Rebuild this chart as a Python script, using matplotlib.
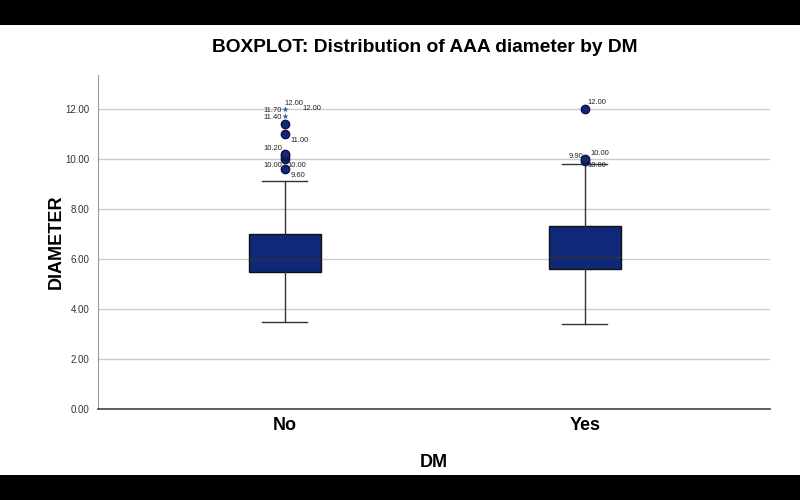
import matplotlib
matplotlib.use("Agg")
import matplotlib.pyplot as plt
from matplotlib.patches import Rectangle

plt.rcParams['font.family'] = ['Liberation Sans', 'DejaVu Sans']

# data
groups = ["No", "Yes"]
whislo = [3.5, 3.4]
q1 = [5.5, 5.6]
med = [6.0, 6.1]
q3 = [7.0, 7.3]
whishi = [9.1, 9.8]
# outliers (circles) and extremes (stars)
out_no = [9.6, 10.0, 10.1, 10.2, 11.0, 11.4]
ext_no = [11.7, 12.0]
out_yes = [9.9, 10.0, 12.0]
ext_yes = []
yticks = [0, 2, 4, 6, 8, 10, 12]

navy = "#0f2878"

fig = plt.figure(figsize=(8, 5), dpi=100, facecolor="black")
# white page between the black bands
fig.patches.append(Rectangle((0, 0.05), 1, 0.9, transform=fig.transFigure,
                             facecolor="white", edgecolor="none", zorder=-1))
ax = fig.add_axes([0.1225, 0.182, 0.84, 0.668])
ax.set_zorder(1)
ax.set_facecolor("white")

stats = []
for i in range(2):
    stats.append(dict(whislo=whislo[i], q1=q1[i], med=med[i], q3=q3[i],
                      whishi=whishi[i], fliers=[]))
ax.bxp(stats, positions=[1, 2], widths=0.24, capwidths=0.15,
       patch_artist=True, showfliers=False,
       boxprops=dict(facecolor=navy, edgecolor="#111111", linewidth=1),
       medianprops=dict(color="#333333", linewidth=1),
       whiskerprops=dict(color="#333333", linewidth=1),
       capprops=dict(color="#333333", linewidth=1), zorder=3)

for x, o, e in [(1, out_no, ext_no), (2, out_yes, ext_yes)]:
    ax.scatter([x] * len(o), o, s=36, color=navy, edgecolor="#111144", zorder=4)
    if e:
        ax.scatter([x] * len(e), e, s=22, marker="*", color="#3a5aa8",
                   linewidths=0, zorder=4)

# point labels
lbl = dict(fontsize=5.5, color="#222222", zorder=5)
ax.text(1.0, 12.15, "12.00", ha="left", **lbl)
ax.text(1.06, 12.0, "12.00", ha="left", va="center", **lbl)
ax.text(0.99, 11.92, "11.70", ha="right", va="center", **lbl)
ax.text(0.99, 11.66, "11.40", ha="right", va="center", **lbl)
ax.text(1.02, 10.75, "11.00", ha="left", va="center", **lbl)
ax.text(0.99, 10.42, "10.20", ha="right", va="center", **lbl)
ax.text(0.99, 9.75, "10.00", ha="right", va="center", **lbl)
ax.text(1.01, 9.75, "10.00", ha="left", va="center", **lbl)
ax.text(1.02, 9.32, "9.60", ha="left", va="center", **lbl)
ax.text(2.01, 12.25, "12.00", ha="left", va="center", **lbl)
ax.text(1.995, 10.1, "9.90", ha="right", va="center", **lbl)
ax.text(2.02, 10.2, "10.00", ha="left", va="center", **lbl)
ax.text(2.01, 9.75, "10.00", ha="left", va="center", **lbl)

ax.set_xlim(0.377, 2.617)
ax.set_ylim(0, 13.36)
ax.set_yticks(yticks)
ax.set_yticklabels(["%.2f" % v for v in yticks], fontsize=7, color="#333333")
ax.set_xticks([1, 2])
ax.set_xticklabels(groups, fontsize=13, fontweight="bold")
ax.tick_params(axis="both", length=0, pad=6)
ax.grid(axis="y", color="#cccccc", linewidth=1, zorder=0)
ax.set_axisbelow(True)
for s in ["top", "right"]:
    ax.spines[s].set_visible(False)
ax.spines["left"].set_color("#999999")
ax.spines["bottom"].set_color("#444444")
ax.spines["bottom"].set_linewidth(1.2)

ax.set_ylabel("DIAMETER", fontsize=13, fontweight="bold")
ax.yaxis.set_label_coords(-0.05, 0.5)
ax.set_xlabel("DM", fontsize=13, fontweight="bold", labelpad=14)
fig.text(0.531, 0.906, "BOXPLOT: Distribution of AAA diameter by DM",
         ha="center", va="center", fontsize=13.8, fontweight="bold")

fig.savefig("out.png", dpi=100, facecolor="black")
